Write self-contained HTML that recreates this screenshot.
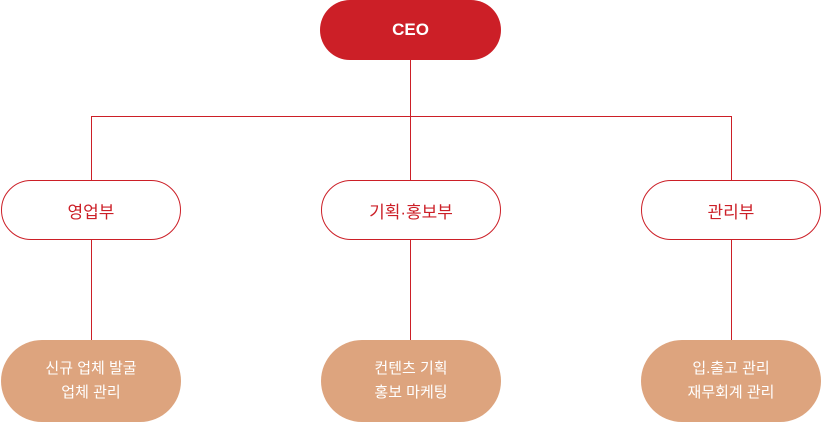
<!DOCTYPE html>
<html><head><meta charset="utf-8"><style>
body{margin:0;width:822px;height:420px;background:#fff;position:relative;overflow:hidden;font-family:"Liberation Sans","Noto Sans CJK KR",sans-serif}
.b{position:absolute;box-sizing:border-box;display:flex;align-items:center;justify-content:center;text-align:center}
.ceo{left:320px;top:0;width:181px;height:60px;background:#cc1f27;color:#fff;border-radius:30px;font-weight:bold;font-size:17px}
.m{top:180px;width:180px;height:60px;border:1px solid #cc1f27;border-radius:30px;color:#cc1f27;font-size:17px;background:#fff}
.s{top:340px;width:180px;height:82px;background:#dda47e;color:#fff;border-radius:41px;font-size:15px;line-height:24px}
.l{position:absolute;background:#cc1f27}
</style></head><body>
<div class="l" style="left:410px;top:60px;width:1px;height:120px"></div>
<div class="l" style="left:91px;top:116px;width:641px;height:1px"></div>
<div class="l" style="left:91px;top:116px;width:1px;height:64px"></div>
<div class="l" style="left:731px;top:116px;width:1px;height:64px"></div>
<div class="l" style="left:91px;top:240px;width:1px;height:100px"></div>
<div class="l" style="left:410px;top:240px;width:1px;height:100px"></div>
<div class="l" style="left:731px;top:240px;width:1px;height:100px"></div>
<div class="b ceo">CEO</div>
<div class="b m" style="left:1px">영업부</div>
<div class="b m" style="left:321px">기획·홍보부</div>
<div class="b m" style="left:641px">관리부</div>
<div class="b s" style="left:1px">신규 업체 발굴<br>업체 관리</div>
<div class="b s" style="left:321px">컨텐츠 기획<br>홍보 마케팅</div>
<div class="b s" style="left:641px">입.출고 관리<br>재무회계 관리</div>
</body></html>
